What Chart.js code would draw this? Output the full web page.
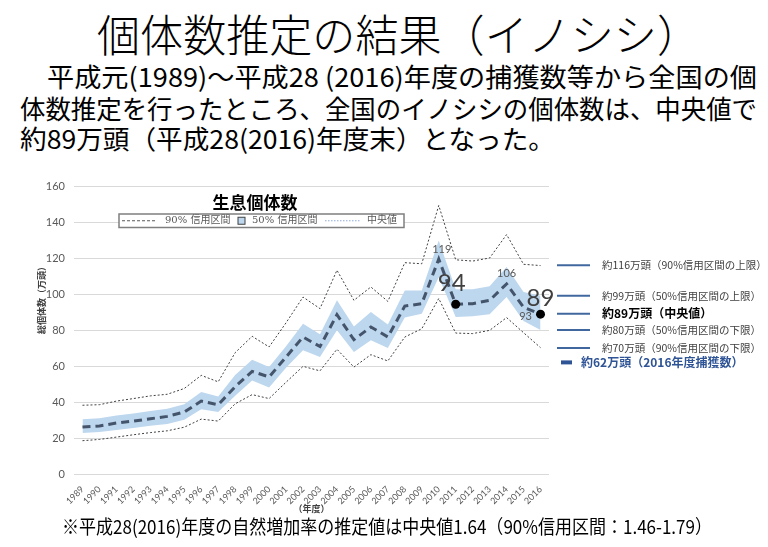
<!DOCTYPE html>
<html lang="ja">
<head>
<meta charset="utf-8">
<title>個体数推定の結果（イノシシ）</title>
<script src="https://cdn.jsdelivr.net/npm/chart.js@4.4.0/dist/chart.umd.min.js"></script>
<style>
  html, body { margin: 0; padding: 0; background: #fff; }
  body { width: 768px; height: 547px; position: relative; overflow: hidden;
         font-family: "Noto Sans CJK JP", sans-serif; color: #000; }
  .fit { position: absolute; white-space: nowrap; transform-origin: left top; line-height: 1; }
  #heading { font-size: 44px; font-weight: 300; top: 11px; left: 97px; }
  .para { font-size: 26px; }
  #line1 { top: 63px; left: 47px; }
  #line2 { top: 95px; left: 20px; }
  #line3 { top: 125px; left: 20px; }
  #note { font-size: 19px; top: 516px; left: 62px; }
  #chartBox { position: absolute; left: 0; top: 170px; width: 768px; height: 350px; }
</style>
</head>
<body>
<div id="heading" class="fit">個体数推定の結果（イノシシ）</div>
<div id="line1" class="fit para">平成元(1989)～平成28 (2016)年度の捕獲数等から全国の個</div>
<div id="line2" class="fit para">体数推定を行ったところ、全国のイノシシの個体数は、中央値で</div>
<div id="line3" class="fit para">約89万頭（平成28(2016)年度末）となった。</div>
<div id="chartBox"><canvas id="popChart"></canvas></div>
<div id="note" class="fit">※平成28(2016)年度の自然増加率の推定値は中央値1.64（90%信用区間：1.46-1.79）</div>

<script>
// ----------------------------
// データ（万頭）
// ----------------------------
const years = ['1989','1990','1991','1992','1993','1994','1995','1996','1997','1998',
               '1999','2000','2001','2002','2003','2004','2005','2006','2007','2008',
               '2009','2010','2011','2012','2013','2014','2015','2016'];

const median  = [26.1, 26.7, 28.3, 29.4, 30.7, 32.0, 34.4, 40.5, 38.5, 48.5,
                 57.0, 53.9, 65.0, 76.1, 70.8, 88.5, 74.6, 81.7, 76.1, 93.3,
                 94.6, 119.4, 94.3, 94.6, 96.5, 105.6, 92.6, 88.8];
const upper90 = [38.2, 38.5, 40.5, 41.9, 43.4, 44.3, 47.5, 54.8, 51.2, 67.4,
                 76.5, 70.6, 84.0, 98.3, 91.9, 113.2, 96.5, 103.9, 95.9, 117.4,
                 116.8, 149.2, 119.0, 118.3, 120.0, 133.0, 116.5, 115.8];
const lower90 = [18.5, 19.2, 20.5, 21.8, 23.0, 24.0, 26.0, 30.5, 29.4, 39.0,
                 44.1, 41.9, 51.0, 59.8, 57.3, 69.3, 59.4, 66.3, 62.8, 76.1,
                 80.7, 97.5, 78.3, 78.0, 79.8, 86.9, 78.5, 70.2];
const upper50 = [30.4, 31.0, 32.5, 33.6, 35.0, 36.3, 38.8, 45.5, 43.0, 55.0,
                 63.5, 59.4, 71.0, 83.5, 77.6, 96.5, 82.0, 90.0, 83.0, 102.0,
                 102.0, 129.7, 102.6, 102.6, 104.3, 115.0, 101.1, 99.0];
const lower50 = [22.8, 23.3, 24.5, 25.5, 26.8, 27.8, 30.2, 36.0, 34.5, 43.5,
                 52.0, 48.0, 59.0, 68.7, 65.0, 79.8, 67.8, 74.3, 70.0, 87.0,
                 89.0, 109.3, 87.2, 87.6, 88.7, 98.3, 85.0, 80.0];

const markedYears  = ['2011', '2016'];
const labeledYears = ['2010', '2011', '2014', '2015', '2016'];

const summaryValues = [116, 99, 89, 80, 70, 62];
const summaryTexts  = ['約116万頭（90%信用区間の上限）', '約99万頭（50%信用区間の上限）',
                       '約89万頭（中央値）', '約80万頭（50%信用区間の下限）',
                       '約70万頭（90%信用区間の下限）', '約62万頭（2016年度捕獲数）'];
const summaryKinds  = ['limit', 'limit', 'median', 'limit', 'limit', 'catch'];

const chartTitle  = '生息個体数';
const legendTexts = ['90% 信用区間', '50% 信用区間', '中央値'];
const yTitle = '総個体数（万頭）';
const xTitle = '（年度）';

// ----------------------------
// 見出しの幅合わせ
// ----------------------------
function fitWidth(id, width) {
  const el = document.getElementById(id);
  const w = el.getBoundingClientRect().width;
  el.style.transform = `scaleX(${width / w})`;
}
fitWidth('heading', 603);
fitWidth('line1', 710);
fitWidth('line2', 737);
fitWidth('line3', 535);
fitWidth('note', 650);

// ----------------------------
// 注記・凡例・ラベル描画
// ----------------------------
const CJK = "'Noto Sans CJK JP', sans-serif";

const labelStyle = {
  '2010': { size: 11, dx: 3,  dy: -10, color: '#595959' },
  '2011': { size: 24, dx: -4, dy: -21, color: '#404040' },
  '2014': { size: 11, dx: 0,  dy: -10, color: '#595959' },
  '2015': { size: 11, dx: 2,  dy: 9,   color: '#595959' },
  '2016': { size: 24, dx: 0,  dy: -16, color: '#404040' }
};

const overlayPlugin = {
  id: 'overlay',
  afterDraw(chart) {
    const ctx = chart.ctx;
    const area = chart.chartArea;
    const yScale = chart.scales.y;
    const meta = chart.getDatasetMeta(0);

    ctx.save();

    // 値ラベル
    ctx.textAlign = 'center';
    ctx.textBaseline = 'middle';
    labeledYears.forEach(yr => {
      const i = years.indexOf(yr);
      const pt = meta.data[i];
      const st = labelStyle[yr];
      ctx.font = `${st.size}px Lato, ${CJK}`;
      ctx.fillStyle = st.color;
      ctx.fillText(String(Math.round(median[i])), pt.x + st.dx, pt.y + st.dy);
    });

    // 右側の注記
    summaryValues.forEach((v, i) => {
      const y = yScale.getPixelForValue(v);
      const kind = summaryKinds[i];
      ctx.textAlign = 'left';
      ctx.textBaseline = 'middle';
      if (kind === 'catch') {
        ctx.strokeStyle = '#2F5496';
        ctx.lineWidth = 4;
        ctx.beginPath();
        ctx.moveTo(area.right + 12, y);
        ctx.lineTo(area.right + 23, y);
        ctx.stroke();
        ctx.font = `bold 12px ${CJK}`;
        ctx.fillStyle = '#2F5496';
        ctx.fillText(summaryTexts[i], area.right + 32, y);
      } else {
        ctx.strokeStyle = '#41689E';
        ctx.lineWidth = 2;
        ctx.beginPath();
        ctx.moveTo(area.right + 8, y);
        ctx.lineTo(area.right + 41, y);
        ctx.stroke();
        if (kind === 'median') {
          ctx.font = `bold 12px ${CJK}`;
          ctx.fillStyle = '#000';
        } else {
          ctx.font = `10.5px ${CJK}`;
          ctx.fillStyle = '#404040';
        }
        ctx.fillText(summaryTexts[i], area.right + 53, y);
      }
    });

    // グラフタイトル
    ctx.textAlign = 'center';
    ctx.font = `bold 17px ${CJK}`;
    ctx.fillStyle = '#000';
    ctx.fillText(chartTitle, area.left + 181, area.top + 16.5);

    // 凡例ボックス
    const bx = area.left + 45, by = area.top + 28, bw = 285, bh = 13.5;
    const my = by + bh / 2;
    ctx.fillStyle = '#fff';
    ctx.fillRect(bx, by, bw, bh);
    ctx.strokeStyle = '#7f7f7f';
    ctx.lineWidth = 1.5;
    ctx.strokeRect(bx, by, bw, bh);

    ctx.font = `10px 'DejaVu Serif', ${CJK}`;
    ctx.fillStyle = '#595959';
    ctx.textAlign = 'left';

    ctx.strokeStyle = '#595959';
    ctx.lineWidth = 1;
    ctx.setLineDash([3, 2]);
    ctx.beginPath();
    ctx.moveTo(bx + 3, my); ctx.lineTo(bx + 38, my);
    ctx.stroke();
    ctx.fillText(legendTexts[0], bx + 46, my);

    ctx.setLineDash([]);
    ctx.fillStyle = '#BDD7EE';
    ctx.fillRect(bx + 119, my - 3.5, 7, 7);
    ctx.strokeStyle = '#404040';
    ctx.strokeRect(bx + 119, my - 3.5, 7, 7);
    ctx.fillStyle = '#595959';
    ctx.fillText(legendTexts[1], bx + 133, my);

    ctx.strokeStyle = '#8FAADC';
    ctx.setLineDash([1.5, 1.5]);
    ctx.beginPath();
    ctx.moveTo(bx + 206, my); ctx.lineTo(bx + 241, my);
    ctx.stroke();
    ctx.setLineDash([]);
    ctx.fillText(legendTexts[2], bx + 248, my);

    // 縦軸タイトル
    ctx.translate(42, area.top + 112);
    ctx.rotate(-Math.PI / 2);
    ctx.textAlign = 'center';
    ctx.font = `bold 9px ${CJK}`;
    ctx.fillStyle = '#404040';
    ctx.fillText(yTitle, 0, 0);

    ctx.restore();
  }
};

// ----------------------------
// グラフ
// ----------------------------
Chart.defaults.font.family = `Lato, ${CJK}`;
Chart.defaults.color = '#595959';

const popCtx = document.getElementById('popChart').getContext('2d');

const popChart = new Chart(popCtx, {
  type: 'line',
  data: {
    labels: years,
    datasets: [
      { label: '中央値', data: median, borderColor: '#44546A', borderWidth: 3,
        borderDash: [8, 5], tension: 0, fill: false, order: 0,
        pointRadius: c => markedYears.includes(years[c.dataIndex]) ? 4.5 : 0,
        pointBackgroundColor: '#000', pointBorderColor: '#000', pointBorderWidth: 0 },
      { label: '90% 信用区間 上限', data: upper90, borderColor: '#404040', borderWidth: 1,
        borderDash: [2, 2], pointRadius: 0, fill: false, order: 1 },
      { label: '90% 信用区間 下限', data: lower90, borderColor: '#404040', borderWidth: 1,
        borderDash: [2, 2], pointRadius: 0, fill: false, order: 1 },
      { label: '50% 信用区間 上限', data: upper50, borderColor: 'rgba(0,0,0,0)', borderWidth: 0,
        backgroundColor: '#BDD7EE', pointRadius: 0, fill: '+1', order: 2 },
      { label: '50% 信用区間 下限', data: lower50, borderColor: 'rgba(0,0,0,0)', borderWidth: 0,
        pointRadius: 0, fill: false, order: 2 }
    ]
  },
  options: {
    responsive: true,
    maintainAspectRatio: false,
    animation: false,
    layout: { padding: { left: 0, right: 219, top: 16, bottom: 4 } },
    plugins: {
      legend: { display: false },
      tooltip: { enabled: false },
      title: { display: false }
    },
    scales: {
      x: {
        offset: true,
        grid: { display: false, drawTicks: false },
        border: { display: false },
        ticks: { font: { size: 9 }, color: '#595959', minRotation: 45, maxRotation: 45,
                 padding: 10, autoSkip: false },
        title: { display: true, text: xTitle, font: { size: 9, weight: 'bold' }, color: '#404040',
                 padding: { top: 1, bottom: 2 } },
        afterFit: s => { s.height = 42; }
      },
      y: {
        min: 0, max: 160,
        grid: { color: '#D9D9D9', lineWidth: 1, drawTicks: false },
        border: { display: false },
        ticks: { stepSize: 20, font: { size: 11 }, color: '#595959', padding: 9 },
        afterFit: s => { s.width = 74; }
      }
    }
  },
  plugins: [overlayPlugin]
});
</script>
</body>
</html>
